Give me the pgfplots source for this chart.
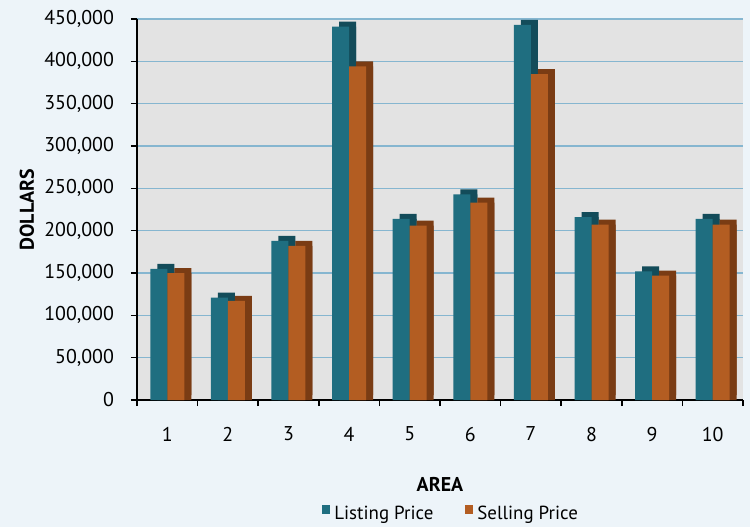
\documentclass[border=0pt]{standalone}
\usepackage{pgfplots}
\pgfplotsset{compat=1.18}
\usepackage{fontspec}
\setmainfont{PT Sans}
\definecolor{teal1}{HTML}{1F6E80}
\definecolor{teal2}{HTML}{134C5A}
\definecolor{orng1}{HTML}{B35D22}
\definecolor{orng2}{HTML}{7A3C14}
\definecolor{bgc}{HTML}{EDF4F9}
\definecolor{wall}{HTML}{E3E3E3}
\definecolor{gridc}{HTML}{86B6D0}
\pgfplotstableread{
x L S
1 155000 150000
2 121000 117000
3 188000 182000
4 441000 394000
5 214000 206000
6 243000 233000
7 443000 385000
8 216000 207000
9 152000 147000
10 214000 207000
}\data
\begin{document}
\begin{tikzpicture}
\path[use as bounding box, fill=bgc] (-68.5bp,-63.5bp) rectangle (306.5bp,200bp);
\begin{axis}[at={(0,0)}, anchor=south west, scale only axis,
  width=303bp, height=190.5bp,
  xmin=0.5, xmax=10.5, ymin=0, ymax=450000,
  axis lines=left, axis line style={-, black, line width=0.8bp},
  axis background/.style={fill=wall},
  ymajorgrids, grid style={gridc, line width=0.6bp},
  ytick={0,50000,100000,150000,200000,250000,300000,350000,400000,450000},
  yticklabels={0,{50,000},{100,000},{150,000},{200,000},{250,000},{300,000},{350,000},{400,000},{450,000}},
  scaled y ticks=false,
  ticklabel style={font=\fontsize{10}{12}\selectfont},
  yticklabel style={xshift=-5bp},
  xtick={0.5,1.5,...,10.5}, xticklabels={},
  extra x ticks={1,2,...,10}, extra x tick labels={1,2,3,4,5,6,7,8,9,10},
  extra x tick style={major tick length=0pt, xticklabel style={yshift=-10bp}},
  tick align=outside, major tick length=3bp, tick style={black, line width=0.8bp},
  xlabel={\textbf{AREA}}, ylabel={\textbf{DOLLARS}},
  label style={font=\fontsize{10}{12}\selectfont},
  xlabel style={at={(axis description cs:0.5,-0.2205)}, anchor=center},
  ylabel style={at={(axis description cs:-0.1815,0.5)}, anchor=center},
  ybar, bar width=8.5bp,
  legend style={draw=none, fill=none, legend columns=2,
    at={(axis description cs:0.52,-0.300)}, anchor=center,
    font=\fontsize{9.5}{11}\selectfont,
    /tikz/every even column/.append style={column sep=14bp}},
  legend image code/.code={\fill[#1] (0bp,0bp) rectangle (4bp,4.5bp);},
]
\addplot[fill=teal2, draw=none, bar shift=-4.25bp, xshift=3.5bp, yshift=2.5bp, forget plot] table[x=x,y=L] {\data};
\addplot[fill=teal2, draw=none, bar shift=-4.25bp, xshift=3.5bp, forget plot] table[x=x,y=L] {\data};
\addplot[fill=teal1, draw=none, bar shift=-4.25bp] table[x=x,y=L] {\data};
\addplot[fill=orng2, draw=none, bar shift=4.25bp, xshift=3.5bp, yshift=2.5bp, forget plot] table[x=x,y=S] {\data};
\addplot[fill=orng2, draw=none, bar shift=4.25bp, xshift=3.5bp, forget plot] table[x=x,y=S] {\data};
\addplot[fill=orng1, draw=none, bar shift=4.25bp] table[x=x,y=S] {\data};
\legend{Listing Price, Selling Price}
\end{axis}
\end{tikzpicture}
\end{document}
